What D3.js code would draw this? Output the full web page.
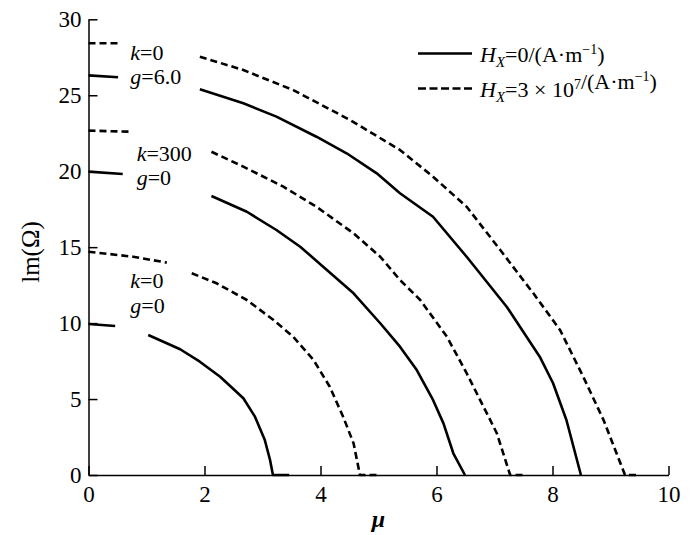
<!DOCTYPE html>
<html>
<head>
<meta charset="utf-8">
<script src="https://cdn.jsdelivr.net/npm/d3@7"></script>
<style>
  body { margin: 0; background: #fff; }
  svg { display: block; font-family: "Liberation Serif", "DejaVu Serif", serif; }
</style>
</head>
<body>
<svg width="700" height="535"></svg>
<script>
// Curves; null marks the gap where a label sits
const muA = [0, 0.46, null, 1.03, 1.58, 1.92, 2.27, 2.67, 2.87, 3.04, 3.13, 3.18, 3.46];
const imA = [9.94, 9.81, null, 9.22, 8.28, 7.46, 6.47, 5.05, 3.84, 2.30, 0.99, 0, 0];

const muB = [0, 0.77, 1.35, null, 1.78, 2.21, 2.73, 3.19, 3.53, 3.88, 4.16, 4.39, 4.57, 4.68, 4.99];
const imB = [14.70, 14.37, 13.98, null, 13.28, 12.62, 11.52, 10.20, 9.10, 7.57, 5.81, 3.84, 2.09, 0, 0];

const muC = [0, 0.59, null, 2.12, 2.73, 3.24, 3.65, 4.11, 4.57, 5.03, 5.37, 5.66, 5.94, 6.12, 6.29, 6.49];
const imC = [19.97, 19.82, null, 18.37, 17.33, 16.13, 15.03, 13.50, 11.96, 9.99, 8.45, 6.91, 4.94, 3.40, 1.43, 0];

const muD = [0, 0.72, null, 2.12, 2.67, 3.36, 3.93, 4.57, 5.03, 5.37, 5.72, 6.18, 6.52, 6.81, 7.04, 7.27, 7.50];
const imD = [22.67, 22.60, null, 21.28, 20.30, 18.98, 17.66, 15.91, 14.37, 12.84, 11.52, 9.10, 6.70, 4.50, 2.75, 0, 0];

const muE = [0, 0.51, null, 1.92, 2.67, 3.24, 3.93, 4.45, 4.97, 5.37, 5.94, 6.52, 7.21, 7.78, 8.01, 8.24, 8.49];
const imE = [26.31, 26.18, null, 25.39, 24.47, 23.59, 22.27, 21.18, 19.86, 18.55, 17.00, 14.37, 11.08, 7.79, 6.04, 3.62, 0];

const muF = [0, 0.51, null, 1.92, 2.67, 3.53, 4.51, 5.37, 5.94, 6.52, 7.10, 7.67, 8.13, 8.53, 8.88, 9.25, 9.51];
const imF = [28.42, 28.42, null, 27.54, 26.66, 25.34, 23.37, 21.40, 19.64, 17.66, 14.81, 11.96, 9.55, 6.47, 3.62, 0, 0];

const xTicks = [0, 2, 4, 6, 8, 10];
const yTicks = [0, 5, 10, 15, 20, 25, 30];

// Curve label pairs: [mu, Im of first baseline, k value, g value]
const curveLabels = [
  [0.72, 27.35, '0', '6.0'],
  [0.83, 20.7, '300', '0'],
  [0.72, 12.3, '0', '0'],
];

const width = 700;
const height = 535;
const margin = {top: 19.3, right: 31.5, bottom: 60, left: 88.5};

const svg = d3.select('svg');

const x = d3.scaleLinear().domain([0, 10])
    .range([margin.left, width - margin.right]);
const y = d3.scaleLinear().domain([0, 30])
    .range([height - margin.bottom, margin.top]);

// Style an axis group: black strokes, serif labels
const styleAxis = (g) => {
  g.attr('font-family', null).attr('font-size', null);
  g.selectAll('line, path').attr('stroke', '#000').attr('stroke-width', 1.5);
  g.selectAll('text').attr('font-size', 23).attr('fill', '#000');
};

// Axes, ticks pointing inward
svg.append('g')
    .attr('transform', `translate(0,${height - margin.bottom})`)
    .call(d3.axisBottom(x).tickValues(xTicks).tickSizeInner(-9)
        .tickSizeOuter(0).tickPadding(11).tickFormat(d3.format('d')))
    .call(styleAxis);

svg.append('g')
    .attr('transform', `translate(${margin.left},0)`)
    .call(d3.axisLeft(y).tickValues(yTicks).tickSizeInner(-9)
        .tickSizeOuter(0).tickPadding(7).tickFormat(d3.format('d')))
    .call(styleAxis);

// Axis titles
svg.append('text')
    .attr('x', (x(0) + x(10)) / 2)
    .attr('y', 527)
    .attr('text-anchor', 'middle')
    .attr('font-size', 24)
    .attr('font-style', 'italic')
    .attr('font-weight', 'bold')
    .text('μ');

svg.append('text')
    .attr('transform', 'rotate(-90)')
    .attr('x', -252)
    .attr('y', 39)
    .attr('text-anchor', 'middle')
    .attr('font-size', 25)
    .text('lm(Ω)');

const line = d3.line()
    .defined((d) => d[1] !== null)
    .x((d) => x(d[0]))
    .y((d) => y(d[1]));

const curves = [
  {mu: muA, im: imA, dashed: false},
  {mu: muB, im: imB, dashed: true},
  {mu: muC, im: imC, dashed: false},
  {mu: muD, im: imD, dashed: true},
  {mu: muE, im: imE, dashed: false},
  {mu: muF, im: imF, dashed: true},
];

svg.append('g')
    .attr('fill', 'none')
    .attr('stroke', '#000')
    .attr('stroke-width', 2.6)
    .attr('stroke-linejoin', 'round')
    .selectAll('path')
    .data(curves)
    .join('path')
    .attr('stroke-dasharray', (d) => d.dashed ? '7,4' : null)
    .attr('d', (d) => line(d.mu.map((m, i) => [m, d.im[i]])));

// Curve labels, two lines in one text element
const lab = svg.append('g').attr('font-size', 22);
curveLabels.forEach((l) => {
  const t = lab.append('text').attr('x', x(l[0])).attr('y', y(l[1]));
  t.append('tspan').attr('font-style', 'italic').text('k');
  t.append('tspan').text('=' + l[2]);
  t.append('tspan').attr('x', x(l[0])).attr('dy', 24.5)
      .attr('font-style', 'italic').text('g');
  t.append('tspan').text('=' + l[3]);
});

// Legend
const legend = svg.append('g');
legend.append('line')
    .attr('x1', 418).attr('x2', 472).attr('y1', 53.5).attr('y2', 53.5)
    .attr('stroke', '#000').attr('stroke-width', 2.6);
legend.append('line')
    .attr('x1', 418).attr('x2', 472).attr('y1', 88.5).attr('y2', 88.5)
    .attr('stroke', '#000').attr('stroke-width', 2.6)
    .attr('stroke-dasharray', '8,3.5');

function legendText(yPos, value) {
  const t = legend.append('text').attr('x', 480).attr('y', yPos)
      .attr('font-size', 22);
  t.append('tspan').attr('font-style', 'italic').text('H');
  t.append('tspan').attr('font-style', 'italic').attr('font-size', 15)
      .attr('dy', 5).text('X');
  t.append('tspan').attr('dy', -5).text('=');
  value(t);
  t.append('tspan').text('/(A·m');
  t.append('tspan').attr('font-size', 14).attr('dy', -8).text('−1');
  t.append('tspan').attr('dy', 8).text(')');
}
legendText(62, (t) => t.append('tspan').text('0'));
legendText(97, (t) => {
  t.append('tspan').text('3 × 10');
  t.append('tspan').attr('font-size', 14).attr('dy', -8).text('7');
  t.append('tspan').attr('dy', 8).text('');
});
</script>
</body>
</html>
